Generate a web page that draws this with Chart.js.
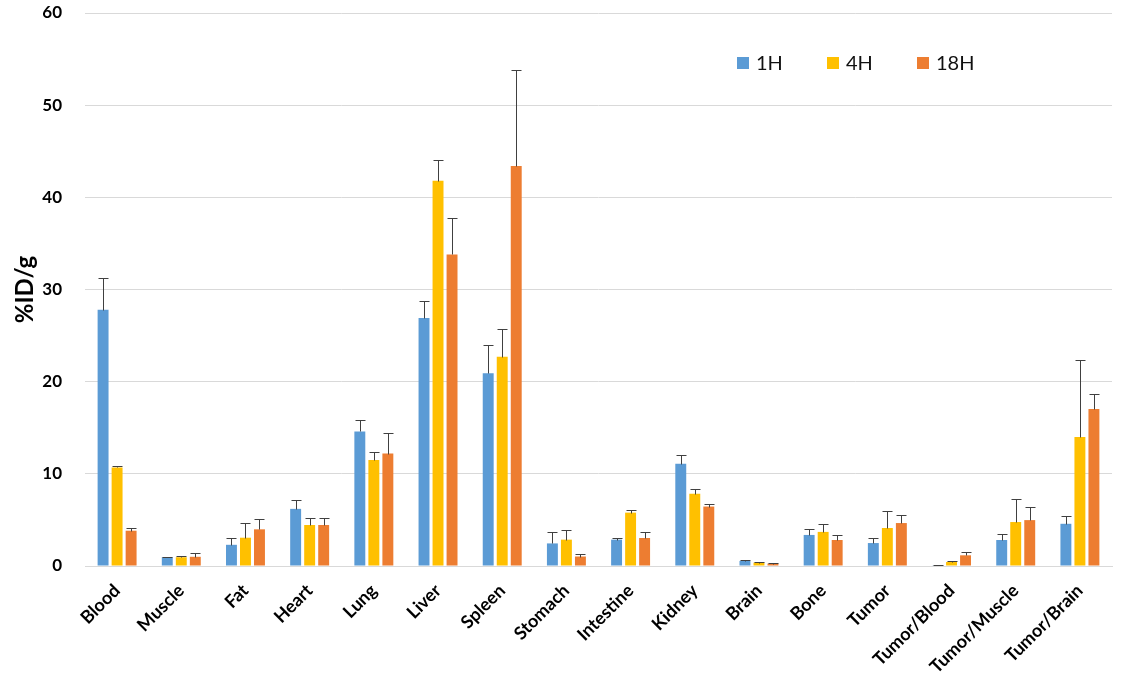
<!DOCTYPE html>
<html>
<head>
<meta charset="utf-8">
<script src="https://cdn.jsdelivr.net/npm/chart.js@4.4.1/dist/chart.umd.min.js"></script>
<style>
  html, body { margin: 0; padding: 0; background: #fff; }
  #wrap { width: 1121px; height: 688px; position: relative; }
</style>
</head>
<body>
<div id="wrap"><canvas id="c" width="1121" height="688"></canvas></div>
<script>
const categories = ["Blood","Muscle","Fat","Heart","Lung","Liver","Spleen","Stomach","Intestine","Kidney","Brain","Bone","Tumor","Tumor/Blood","Tumor/Muscle","Tumor/Brain"];
const seriesNames = ["1H","4H","18H"];
const values1H  = [27.8, 0.95, 2.3, 6.2, 14.6, 26.9, 20.9, 2.45, 2.86, 11.1, 0.55, 3.37, 2.49, 0.07, 2.82, 4.58];
const values4H  = [10.7, 0.95, 3.07, 4.45, 11.5, 41.8, 22.7, 2.86, 5.79, 7.84, 0.37, 3.7, 4.12, 0.43, 4.77, 14.0];
const values18H = [3.83, 1.0, 3.98, 4.45, 12.2, 33.8, 43.4, 1.03, 3.04, 6.45, 0.26, 2.82, 4.66, 1.16, 4.98, 17.04];
const errors1H  = [3.5, 0.05, 0.7, 0.96, 1.2, 1.8, 3.1, 1.25, 0.18, 0.9, 0.05, 0.63, 0.51, 0.02, 0.61, 0.84];
const errors4H  = [0.15, 0.15, 1.63, 0.75, 0.9, 2.2, 3.0, 1.1, 0.29, 0.55, 0.03, 0.88, 1.8, 0.07, 2.45, 8.3];
const errors18H = [0.27, 0.4, 1.09, 0.75, 2.2, 4.0, 10.4, 0.22, 0.66, 0.29, 0.04, 0.51, 0.86, 0.32, 1.37, 1.66];
const yTicks = [0, 10, 20, 30, 40, 50, 60];
const colors = ["#5B9BD5", "#FFC000", "#ED7D31"];

const allValues = [values1H, values4H, values18H];
const allErrors = [errors1H, errors4H, errors18H];

const errorBarPlugin = {
  id: 'errorBars',
  afterDatasetsDraw(chart) {
    const ctx = chart.ctx;
    const y = chart.scales.y;
    ctx.save();
    ctx.strokeStyle = '#404040';
    ctx.lineWidth = 1;
    chart.data.datasets.forEach((ds, i) => {
      const meta = chart.getDatasetMeta(i);
      meta.data.forEach((bar, j) => {
        const v = ds.data[j];
        const e = allErrors[i][j];
        const y0 = Math.round(y.getPixelForValue(v)) + 0.5;
        const y1 = Math.round(y.getPixelForValue(v + e)) + 0.5;
        const x = Math.round(bar.x) + 0.5;
        ctx.beginPath();
        ctx.moveTo(x, y0);
        ctx.lineTo(x, y1);
        ctx.moveTo(x - 5, y1);
        ctx.lineTo(x + 5, y1);
        ctx.stroke();
      });
    });
    ctx.restore();
  }
};

const legendPlugin = {
  id: 'customLegend',
  afterDraw(chart) {
    const ctx = chart.ctx;
    const xs = [737, 827, 917];
    const cy = 63;
    ctx.save();
    ctx.font = '20px Lato, "Liberation Sans", sans-serif';
    ctx.textBaseline = 'middle';
    ctx.textAlign = 'left';
    seriesNames.forEach((name, i) => {
      ctx.fillStyle = colors[i];
      ctx.fillRect(xs[i], cy - 6, 12, 12);
      ctx.fillStyle = '#111';
      ctx.fillText(name, xs[i] + 19, cy + 1);
    });
    ctx.restore();
  }
};

new Chart(document.getElementById('c'), {
  type: 'bar',
  data: {
    labels: categories,
    datasets: seriesNames.map((n, i) => ({
      label: n,
      data: allValues[i],
      backgroundColor: colors[i],
      borderWidth: 0,
      categoryPercentage: 0.655,
      barPercentage: 0.78
    }))
  },
  options: {
    responsive: false,
    animation: false,
    devicePixelRatio: 1,
    layout: { autoPadding: false, padding: { top: 13, right: 9, left: 0, bottom: 0 } },
    plugins: {
      legend: { display: false },
      tooltip: { enabled: false }
    },
    scales: {
      x: {
        grid: { display: false },
        border: { display: true, color: '#d9d9d9' },
        ticks: {
          maxRotation: 45,
          minRotation: 45,
          autoSkip: false,
          padding: 6,
          color: '#000',
          font: { family: 'Lato, "Liberation Sans", sans-serif', size: 18, weight: 'bold' }
        },
        afterFit(scale) { scale.height = 122; }
      },
      y: {
        min: 0,
        max: 60,
        afterBuildTicks(scale) { scale.ticks = yTicks.map(v => ({ value: v })); },
        grid: { color: '#d9d9d9', drawTicks: true, tickLength: 23, tickColor: 'rgba(0,0,0,0)' },
        border: { display: false },
        ticks: {
          padding: 0,
          color: '#000',
          font: { family: 'Lato, "Liberation Sans", sans-serif', size: 17, weight: 'bold' }
        },
        title: {
          display: true,
          text: '%ID/g',
          color: '#000',
          padding: { top: 11, bottom: 0 },
          font: { family: 'Lato, "Liberation Sans", sans-serif', size: 24, weight: 'bold' }
        },
        afterFit(scale) { scale.width = 85; }
      }
    }
  },
  plugins: [errorBarPlugin, legendPlugin]
});
</script>
</body>
</html>
